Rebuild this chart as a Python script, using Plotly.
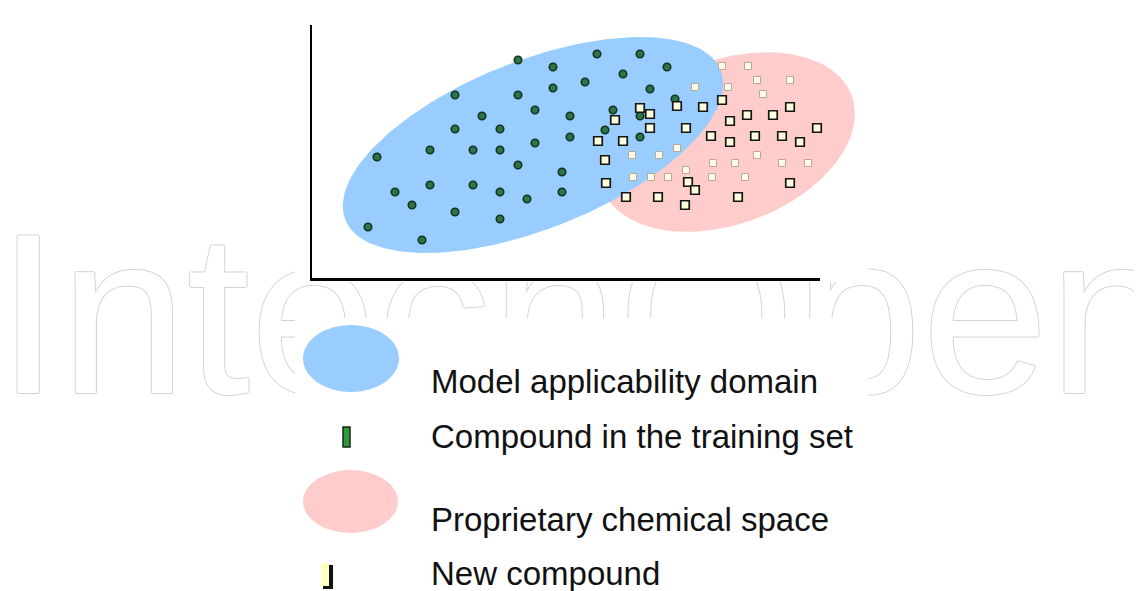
import numpy as np
import plotly.graph_objects as go

W, H = 1142, 591
OFF = 8  # page body margin of the html page

# ---------------- data (chart units: x to the right, y up from the axes origin) ----------------
train_x = [143, 206, 241, 273, 170, 223, 258, 143, 188, 258, 223, 65, 118, 161, 188, 206, 250, 83, 118, 161,
           188, 215, 250, 100, 143, 188, 56, 110, 206, 241, 285, 328, 355, 311, 338, 301, 293, 328, 328, 363, 293]
train_y = [183, 183, 190, 196, 162, 168, 162, 149, 149, 141, 135, 121, 128, 128, 128, 113, 106, 86, 93, 93,
           86, 79, 86, 73, 66, 59, 51, 38, 218, 211, 224, 224, 211, 204, 189, 168, 148, 141, 162, 179, 118]

new_x = [328, 338, 365, 391, 303, 338, 374, 286, 311, 293, 294, 314, 346, 376, 383, 373, 426, 410, 418, 435,
         461, 478, 505, 399, 418, 443, 470, 488, 478]
new_y = [170, 164, 172, 171, 158, 150, 150, 137, 137, 118, 95, 81, 81, 96, 88, 73, 81, 178, 157, 163,
         163, 171, 150, 142, 136, 142, 142, 136, 95]

# new compounds rendered faintly in the source image
faint_x = [410, 436, 445, 478, 383, 416, 451, 320, 347, 365, 401, 423, 445, 470, 496, 321, 339, 356, 374, 400, 433]
faint_y = [212, 212, 198, 198, 191, 191, 184, 123, 123, 130, 115, 115, 123, 115, 115, 101, 101, 101, 108, 101, 101]

# ellipses: centre, semi-axes, tilt (degrees)
domain_cx, domain_cy, domain_a, domain_b, domain_angle = 221, 133, 202, 84, 21.7
space_cx, space_cy, space_a, space_b, space_angle = 415, 136, 133, 82, 20.5

legend_labels = ["Model applicability domain", "Compound in the training set",
                 "Proprietary chemical space", "New compound"]
watermark_text = "IntechOpen"

BLUE = "#99CCFF"
PINK = "#FFCCCC"

# ---------------- layout geometry (window pixels) ----------------
AX_L, AX_R, AX_T, AX_B = 312, 820, 25, 278


def ellipse(cx, cy, a, b, ang):
    t = np.linspace(0, 2 * np.pi, 240)
    th = np.radians(ang)
    x = cx + a * np.cos(t) * np.cos(th) - b * np.sin(t) * np.sin(th)
    y = cy + a * np.cos(t) * np.sin(th) + b * np.sin(t) * np.cos(th)
    return x, y


def px(x):
    return (x - OFF) / W


def py(y):
    return 1 - (y - OFF) / H


def ux(x):  # window pixel -> chart unit
    return x - AX_L


def uy(y):
    return AX_B - y


fig = go.Figure()

# watermark (outlined text), drawn first so the white panels cover it
fig.add_trace(go.Scatter(x=[ux(586)], y=[uy(336)], mode="text", text=[watermark_text],
                         textposition="middle center", hoverinfo="skip",
                         textfont=dict(size=228, color="white", family="Arial, Liberation Sans, sans-serif",
                                       shadow="1px 0 0 #d2d2d2, -1px 0 0 #d2d2d2, 0 1px 0 #d2d2d2, 0 -1px 0 #d2d2d2")))
# white panels of the original figure
for (x0, y0, x1, y1) in [(295, 0, 868, 282), (295, 318, 868, 600)]:
    fig.add_trace(go.Scatter(x=[ux(x0), ux(x1), ux(x1), ux(x0), ux(x0)],
                             y=[uy(y0), uy(y0), uy(y1), uy(y1), uy(y0)],
                             mode="lines", fill="toself", fillcolor="white",
                             line=dict(width=0, color="white"), hoverinfo="skip"))

sx, sy = ellipse(space_cx, space_cy, space_a, space_b, space_angle)
fig.add_trace(go.Scatter(x=sx, y=sy, mode="lines", fill="toself", fillcolor=PINK,
                         line=dict(width=0, color=PINK), name="Proprietary chemical space",
                         hoverinfo="skip"))
dx, dy = ellipse(domain_cx, domain_cy, domain_a, domain_b, domain_angle)
fig.add_trace(go.Scatter(x=dx, y=dy, mode="lines", fill="toself", fillcolor=BLUE,
                         line=dict(width=0, color=BLUE), name="Model applicability domain",
                         hoverinfo="skip"))
fig.add_trace(go.Scatter(x=train_x, y=train_y, mode="markers", name="Compound in the training set",
                         marker=dict(symbol="circle", size=7.5, color="#2b7548",
                                     line=dict(color="#14331f", width=1.6))))
fig.add_trace(go.Scatter(x=faint_x, y=faint_y, mode="markers", name="New compound",
                         marker=dict(symbol="square", size=7, color="#FFFBEA",
                                     line=dict(color="#b9a894", width=1))))
fig.add_trace(go.Scatter(x=new_x, y=new_y, mode="markers", name="New compound",
                         marker=dict(symbol="square", size=8.5, color="#FFFFE0",
                                     line=dict(color="#151515", width=1.7))))
# empty trace so the axes frame subplot is drawn
fig.add_trace(go.Scatter(x=[], y=[], xaxis="x2", yaxis="y2", hoverinfo="skip"))

fig.update_layout(
    xaxis=dict(domain=[0, 1], range=[ux(OFF), ux(OFF + W)], visible=False, fixedrange=True),
    yaxis=dict(domain=[0, 1], range=[uy(OFF + H), uy(OFF)], visible=False, fixedrange=True),
    xaxis2=dict(domain=[px(AX_L), px(AX_R)], anchor="y2", range=[0, AX_R - AX_L],
                showline=True, linewidth=3, linecolor="black", showgrid=False,
                zeroline=False, showticklabels=False, ticks="", fixedrange=True),
    yaxis2=dict(domain=[py(AX_B), py(AX_T)], anchor="x2", range=[0, AX_B - AX_T],
                showline=True, linewidth=2, linecolor="black", showgrid=False,
                zeroline=False, showticklabels=False, ticks="", fixedrange=True),
)

shapes = []
shapes.append(dict(type="circle", xref="paper", yref="paper", x0=px(303), x1=px(399), y0=py(392), y1=py(325),
                   line=dict(width=0), fillcolor=BLUE, layer="above"))
shapes.append(dict(type="circle", xref="paper", yref="paper", x0=px(303), x1=px(398), y0=py(533), y1=py(470),
                   line=dict(width=0), fillcolor=PINK, layer="above"))
shapes.append(dict(type="rect", xref="paper", yref="paper", x0=px(343), x1=px(350), y0=py(447), y1=py(427),
                   line=dict(width=1.5, color="#142a18"), fillcolor="#2f9a3c", layer="above"))
shapes.append(dict(type="rect", xref="paper", yref="paper", x0=px(323), x1=px(333), y0=py(589), y1=py(565),
                   line=dict(width=0), fillcolor="#111111", layer="above"))
shapes.append(dict(type="rect", xref="paper", yref="paper", x0=px(321), x1=px(329), y0=py(586), y1=py(563),
                   line=dict(width=0), fillcolor="#FFFFC0", layer="above"))

ann_y = [381, 436, 519, 573]
annotations = [dict(x=px(429), y=py(yy), xref="paper", yref="paper", text=t, showarrow=False,
                    xanchor="left", yanchor="middle",
                    font=dict(size=33, color="#111111", family="Arial, Liberation Sans, sans-serif"))
               for t, yy in zip(legend_labels, ann_y)]

fig.update_layout(width=W, height=H, margin=dict(l=0, r=0, t=0, b=0),
                  paper_bgcolor="white", plot_bgcolor="rgba(0,0,0,0)",
                  showlegend=False, shapes=shapes, annotations=annotations)

fig.write_html("out.html")
